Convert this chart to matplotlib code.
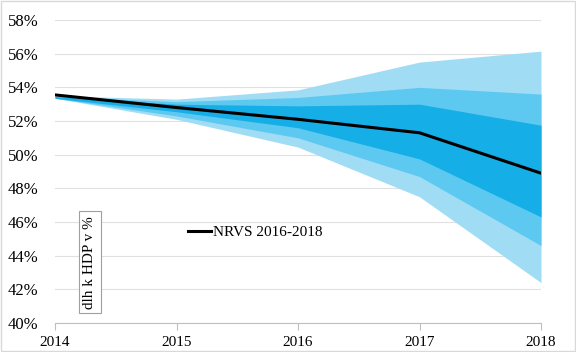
import matplotlib
matplotlib.use("Agg")
import matplotlib.pyplot as plt
from matplotlib.ticker import FuncFormatter

years = [2014, 2015, 2016, 2017, 2018]
nrvs = [53.55, 52.8, 52.1, 51.3, 48.9]

# fan bands (lower, upper), %
outer_lo = [53.35, 52.1, 50.45, 47.5, 42.4]
outer_hi = [53.5, 53.3, 53.85, 55.5, 56.15]
mid_lo = [53.35, 52.3, 51.0, 48.7, 44.6]
mid_hi = [53.45, 53.15, 53.4, 54.0, 53.6]
inner_lo = [53.35, 52.55, 51.6, 49.75, 46.3]
inner_hi = [53.45, 53.0, 52.9, 53.0, 51.75]

yticks = list(range(40, 59, 2))

plt.rcParams['font.family'] = ['Liberation Serif', 'DejaVu Serif']

fig = plt.figure(figsize=(5.76, 3.52), dpi=100)
ax = fig.add_axes([55 / 576, 29 / 352, 486 / 576, 303 / 352])

ax.fill_between(years, outer_lo, outer_hi, color='#a0ddf5', lw=0)
ax.fill_between(years, mid_lo, mid_hi, color='#5ec9f0', lw=0)
ax.fill_between(years, inner_lo, inner_hi, color='#16aee6', lw=0)
ax.plot(years, nrvs, color='black', lw=2.2, label='NRVS 2016-2018')

ax.set_xlim(2014, 2018)
ax.set_ylim(40, 58)
ax.set_xticks(years)
ax.set_yticks(yticks)
ax.yaxis.set_major_formatter(FuncFormatter(lambda v, p: f"{v:.0f}%"))
ax.grid(axis='y', color='#e0e0e0', lw=0.8)
ax.set_axisbelow(True)
for s in ['top', 'right', 'left']:
    ax.spines[s].set_visible(False)
ax.spines['bottom'].set_color('#bfbfbf')
ax.tick_params(axis='y', length=0, labelsize=12, pad=12)
ax.tick_params(axis='x', color='#bfbfbf', length=5, labelsize=11, pad=4)

ax.legend(loc='center left', bbox_to_anchor=(0.245, 0.30), frameon=False,
          fontsize=11, handlelength=1.5, handletextpad=0.15)

ax.text(0.072, 0.2, 'dlh k HDP v %', transform=ax.transAxes, rotation=90,
        ha='center', va='center', fontsize=11,
        bbox=dict(boxstyle='square,pad=0.3', fc='white', ec='#a0a0a0', lw=0.8))

fig.patches.append(plt.Rectangle((0.002, 0.003), 0.996, 0.994, transform=fig.transFigure,
                                 fill=False, ec='#d9d9d9', lw=1))

fig.savefig('out.png', dpi=100)
